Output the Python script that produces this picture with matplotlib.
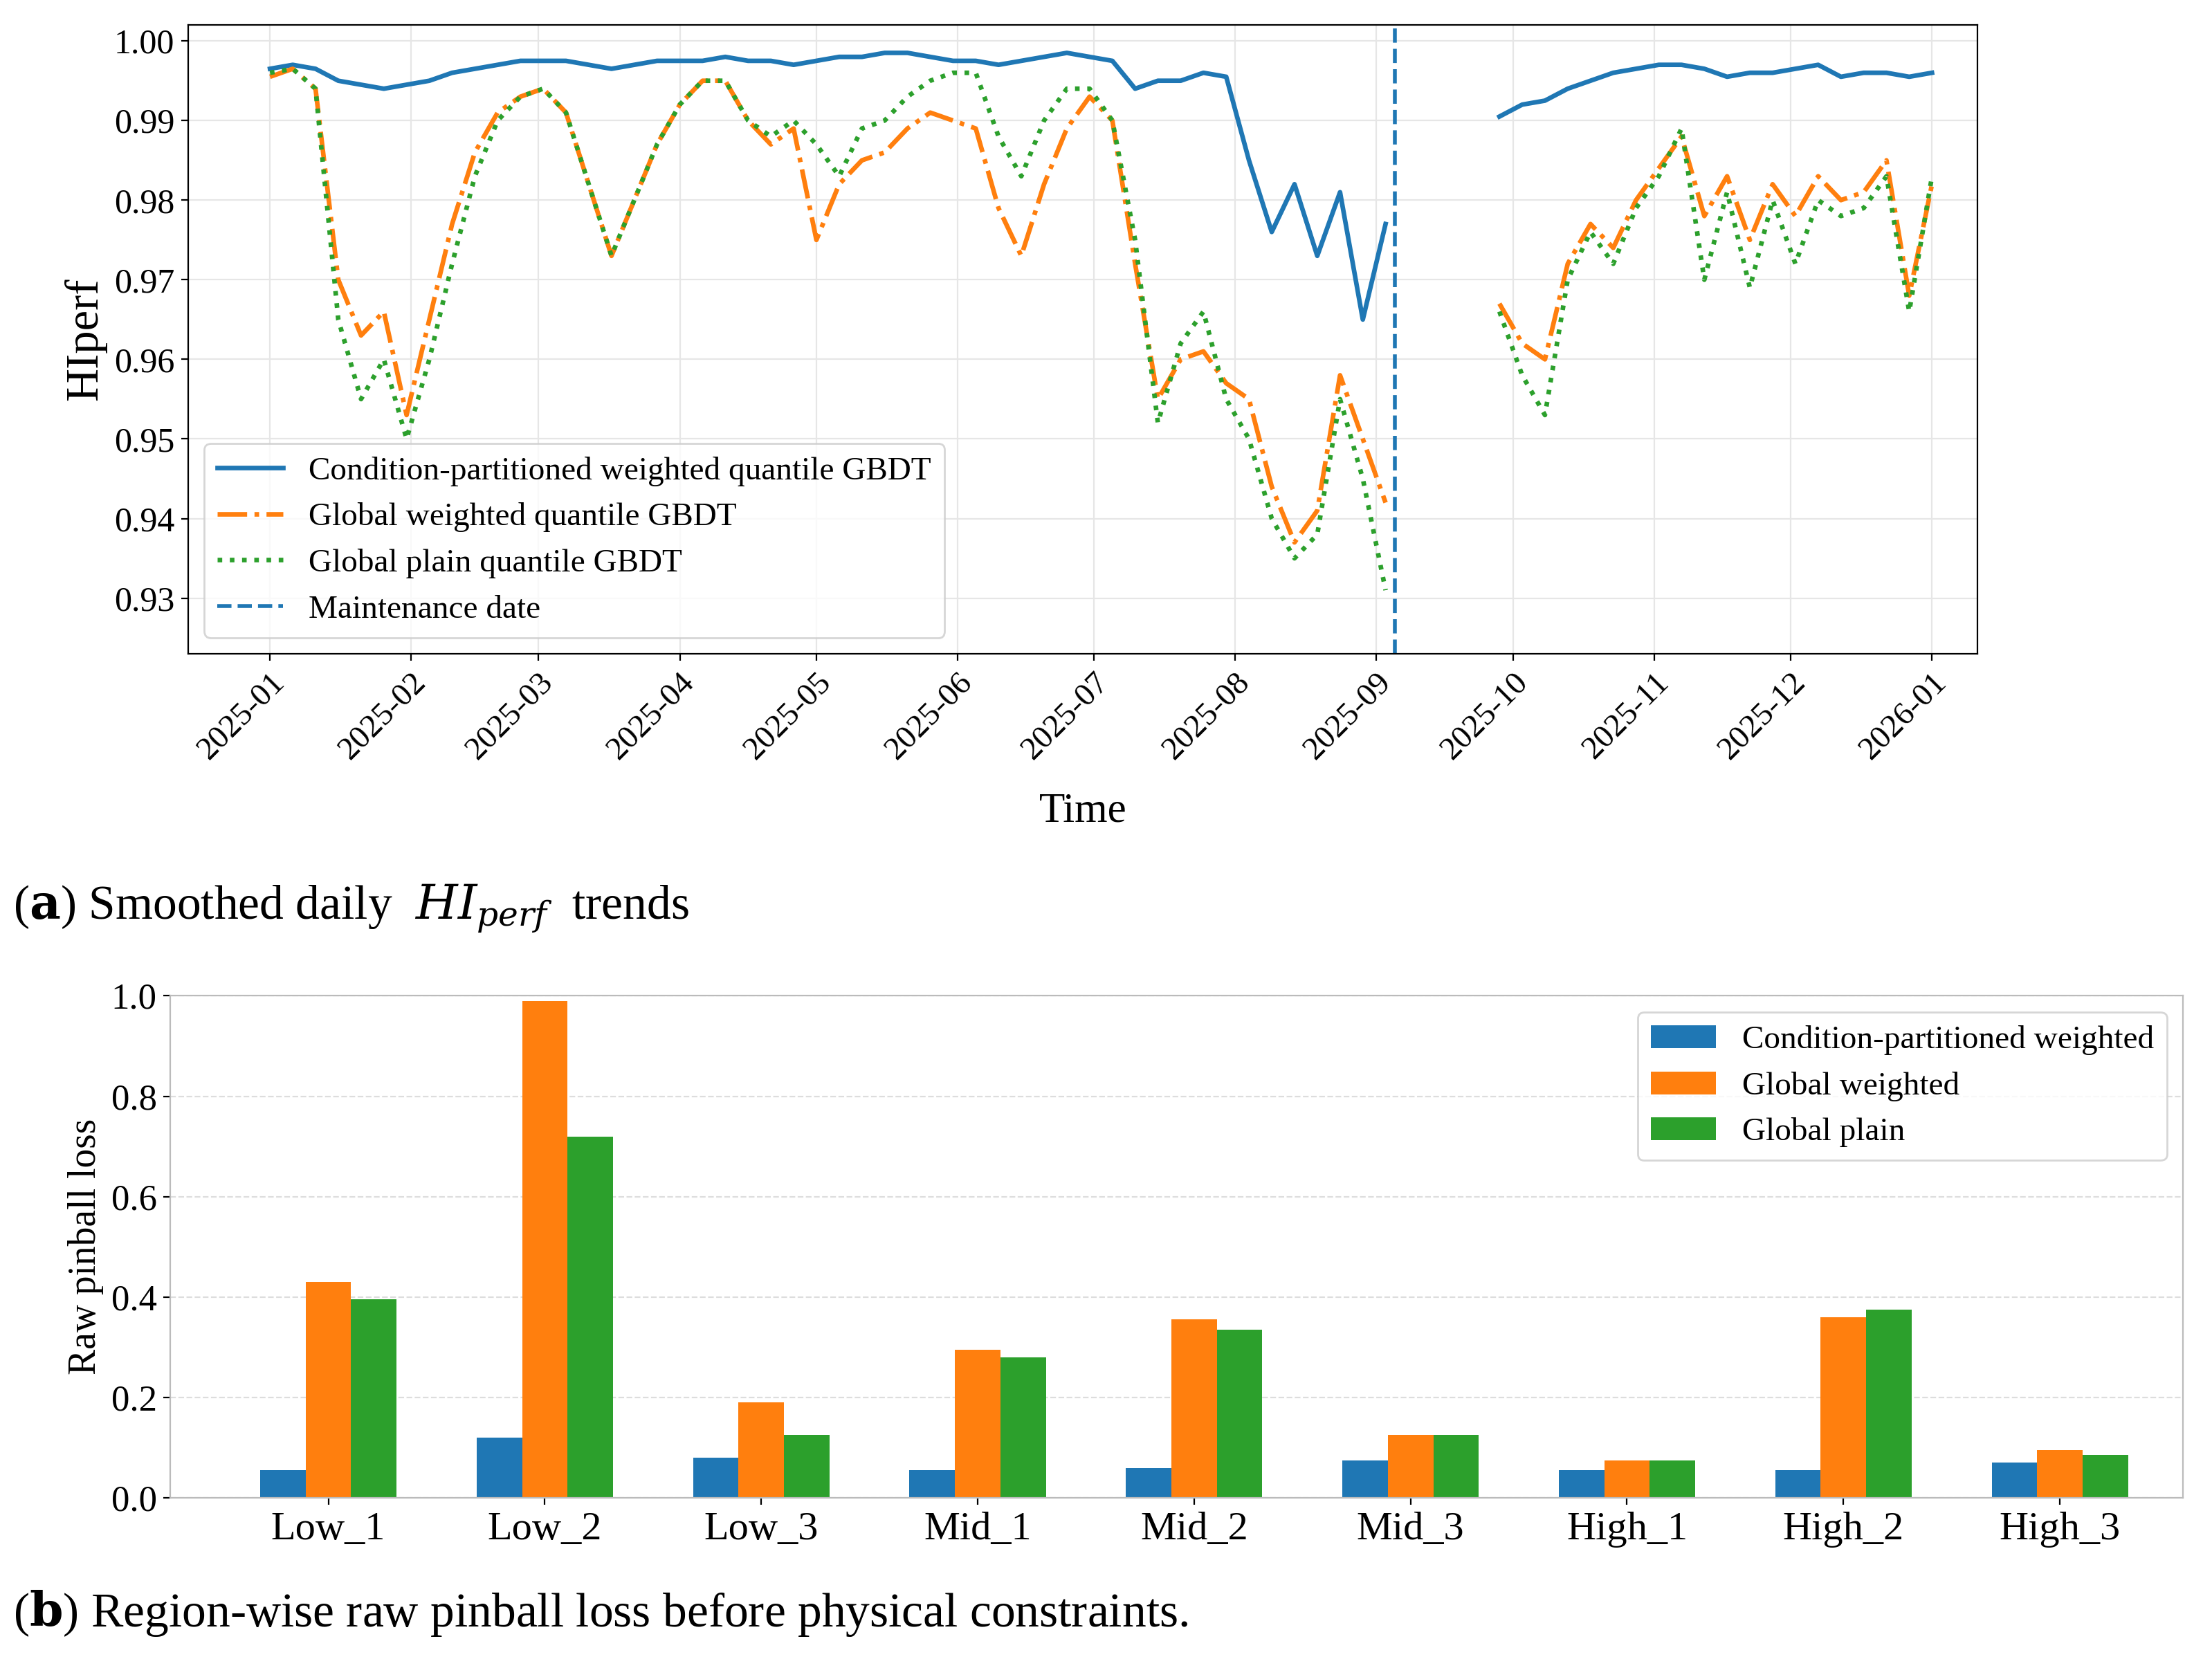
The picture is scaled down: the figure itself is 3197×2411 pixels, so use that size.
import matplotlib.pyplot as plt
import matplotlib.dates as mdates
import pandas as pd
import numpy as np

plt.rcParams['font.family'] = ['Liberation Serif', 'DejaVu Serif']
plt.rcParams['mathtext.fontset'] = 'dejavuserif'

# daily HI_perf trend, every 5 days
dates_pre = pd.date_range('2025-01-01', periods=50, freq='5D')
dates_post = pd.date_range('2025-09-28', periods=20, freq='5D')
maintenance = pd.Timestamp('2025-09-05')

blue_pre = [0.9965, 0.997, 0.9965, 0.995, 0.9945, 0.994, 0.9945, 0.995, 0.996, 0.9965,
            0.997, 0.9975, 0.9975, 0.9975, 0.997, 0.9965, 0.997, 0.9975, 0.9975, 0.9975,
            0.998, 0.9975, 0.9975, 0.997, 0.9975, 0.998, 0.998, 0.9985, 0.9985, 0.998,
            0.9975, 0.9975, 0.997, 0.9975, 0.998, 0.9985, 0.998, 0.9975, 0.994, 0.995,
            0.995, 0.996, 0.9955, 0.985, 0.976, 0.982, 0.973, 0.981, 0.965, 0.977]
orange_pre = [0.9955, 0.9965, 0.994, 0.970, 0.963, 0.966, 0.953, 0.965, 0.977, 0.986,
              0.991, 0.993, 0.994, 0.991, 0.982, 0.973, 0.980, 0.987, 0.992, 0.995,
              0.995, 0.990, 0.987, 0.989, 0.975, 0.982, 0.985, 0.986, 0.989, 0.991,
              0.990, 0.989, 0.979, 0.973, 0.982, 0.989, 0.993, 0.990, 0.972, 0.955,
              0.960, 0.961, 0.957, 0.955, 0.944, 0.937, 0.941, 0.958, 0.950, 0.942]
green_pre = [0.996, 0.9965, 0.994, 0.965, 0.955, 0.960, 0.950, 0.960, 0.972, 0.983,
             0.990, 0.993, 0.994, 0.991, 0.982, 0.973, 0.980, 0.987, 0.992, 0.995,
             0.995, 0.990, 0.988, 0.990, 0.987, 0.983, 0.989, 0.990, 0.993, 0.995,
             0.996, 0.996, 0.988, 0.983, 0.990, 0.994, 0.994, 0.990, 0.975, 0.952,
             0.962, 0.966, 0.955, 0.950, 0.940, 0.935, 0.938, 0.955, 0.945, 0.931]
blue_post = [0.9905, 0.992, 0.9925, 0.994, 0.995, 0.996, 0.9965, 0.997, 0.997, 0.9965,
             0.9955, 0.996, 0.996, 0.9965, 0.997, 0.9955, 0.996, 0.996, 0.9955, 0.996]
orange_post = [0.967, 0.962, 0.960, 0.972, 0.977, 0.974, 0.980, 0.984, 0.988, 0.978,
               0.983, 0.975, 0.982, 0.978, 0.983, 0.980, 0.981, 0.985, 0.968, 0.982]
green_post = [0.966, 0.958, 0.953, 0.970, 0.976, 0.972, 0.979, 0.983, 0.989, 0.970,
              0.981, 0.969, 0.980, 0.972, 0.980, 0.978, 0.979, 0.983, 0.966, 0.983]

# region-wise pinball loss
regions = ['Low_1', 'Low_2', 'Low_3', 'Mid_1', 'Mid_2', 'Mid_3', 'High_1', 'High_2', 'High_3']
loss_cp = [0.055, 0.12, 0.08, 0.055, 0.06, 0.075, 0.055, 0.055, 0.07]
loss_gw = [0.43, 0.99, 0.19, 0.295, 0.355, 0.125, 0.075, 0.36, 0.095]
loss_gp = [0.395, 0.72, 0.125, 0.28, 0.335, 0.125, 0.075, 0.375, 0.085]

c_blue, c_orange, c_green = '#1f77b4', '#ff7f0e', '#2ca02c'

fig = plt.figure(figsize=(15.985, 12.055), dpi=200)

# (a) trends
ax1 = fig.add_axes([0.085, 0.608, 0.809, 0.377])
ax1.plot(dates_pre, blue_pre, color=c_blue, lw=2.4, label='Condition-partitioned weighted quantile GBDT')
ax1.plot(dates_post, blue_post, color=c_blue, lw=2.4)
ax1.plot(dates_pre, orange_pre, color=c_orange, lw=2.4, ls='-.', label='Global weighted quantile GBDT')
ax1.plot(dates_post, orange_post, color=c_orange, lw=2.4, ls='-.')
ax1.plot(dates_pre, green_pre, color=c_green, lw=2.4, ls=':', label='Global plain quantile GBDT')
ax1.plot(dates_post, green_post, color=c_green, lw=2.4, ls=':')
ax1.axvline(maintenance, color=c_blue, lw=2, ls='--', label='Maintenance date')
ax1.set_ylim(0.923, 1.002)
ax1.set_xlim(pd.Timestamp('2024-12-14'), pd.Timestamp('2026-01-11'))
ax1.set_yticks([0.93, 0.94, 0.95, 0.96, 0.97, 0.98, 0.99, 1.00])
ax1.yaxis.set_major_formatter(plt.FormatStrFormatter('%.2f'))
ax1.xaxis.set_major_locator(mdates.MonthLocator())
ax1.xaxis.set_major_formatter(mdates.DateFormatter('%Y-%m'))
ax1.tick_params(axis='x', labelsize=17, rotation=45)
ax1.tick_params(axis='y', labelsize=18)
for lab in ax1.get_xticklabels():
    lab.set_ha('right')
    lab.set_rotation_mode('anchor')
ax1.grid(True, color='#e6e6e6', lw=0.8)
ax1.set_ylabel('HIperf', fontsize=24)
ax1.set_xlabel('Time', fontsize=22, labelpad=14)
ax1.legend(loc='lower left', fontsize=17, frameon=True, edgecolor='#cccccc')

fig.text(0.006, 0.449, r'($\mathbf{a}$) Smoothed daily  $HI_{perf}$  trends', fontsize=25)

# (b) bars
ax2 = fig.add_axes([0.077, 0.102, 0.910, 0.301])
x = np.arange(len(regions))
w = 0.21
ax2.bar(x - w, loss_cp, w, color=c_blue, label='Condition-partitioned weighted')
ax2.bar(x, loss_gw, w, color=c_orange, label='Global weighted')
ax2.bar(x + w, loss_gp, w, color=c_green, label='Global plain')
ax2.set_xticks(x)
ax2.set_xticklabels(regions, fontsize=21)
ax2.set_xlim(-0.73, 8.57)
ax2.set_ylim(0, 1.0)
ax2.set_yticks([0.0, 0.2, 0.4, 0.6, 0.8, 1.0])
ax2.yaxis.set_major_formatter(plt.FormatStrFormatter('%.1f'))
ax2.tick_params(axis='y', labelsize=19)
ax2.grid(True, axis='y', ls='--', color='#dddddd', lw=0.8)
ax2.set_axisbelow(True)
for s in ax2.spines.values():
    s.set_color('#bbbbbb')
ax2.set_ylabel('Raw pinball loss', fontsize=20)
ax2.legend(loc='upper right', fontsize=17, edgecolor='#cccccc')

fig.text(0.006, 0.025, r'($\mathbf{b}$) Region-wise raw pinball loss before physical constraints.', fontsize=25)

fig.savefig('out.png', dpi=200)
